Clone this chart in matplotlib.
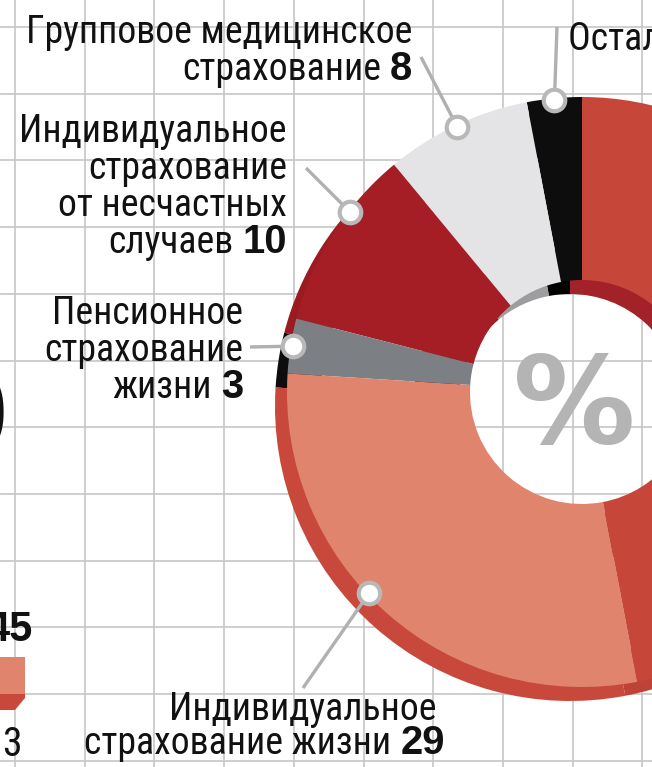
import numpy as np
import matplotlib
matplotlib.use("Agg")
import matplotlib.pyplot as plt
from matplotlib import font_manager
from matplotlib.font_manager import FontProperties
from matplotlib.patches import Rectangle, Polygon

W, H = 652, 767

# slices, counter-clockwise from 12 o'clock
categories = ["Остальные", "Групповое медицинское страхование",
              "Индивидуальное страхование от несчастных случаев",
              "Пенсионное страхование жизни", "Индивидуальное страхование жизни", ""]
shares = [3, 8, 10, 3, 29, 47]
top_colors = ["#0d0d0d", "#e4e4e6", "#a61e25", "#7c8085", "#e0846e", "#c6473a"]
rim_colors = ["#000000", "#9d9d9f", "#9a1b21", "#0d0d0d", "#c8483b", "#bf4236"]
wall_colors = ["#000000", "#9d9d9f", "#861a1e", "#0d0d0d", "#c8483b", "#a3222a"]


# look for a narrow sans face, the original uses a condensed type
def find_narrow():
    best = None
    for f in font_manager.fontManager.ttflist:
        n, p = f.name.lower(), f.fname.lower()
        narrow = ("narrow" in n or "condensed" in n or "narrow" in p or "condensed" in p
                  or f.stretch in ("condensed", "semi-condensed", "extra-condensed", "ultra-condensed"))
        if not narrow or f.style != "normal" or f.weight not in (400, "normal", "regular"):
            continue
        if "mono" in n or "serif" in n:
            continue
        score = 0
        if "liberation" in n:
            score = 3
        elif "roboto" in n:
            score = 2
        elif "dejavu" in n:
            score = 1
        if best is None or score > best[0]:
            best = (score, f.fname)
    return FontProperties(fname=best[1]) if best else FontProperties(family="DejaVu Sans")


names = {f.name for f in font_manager.fontManager.ttflist}
num_family = "Liberation Sans" if "Liberation Sans" in names else "DejaVu Sans"
txt_fp = find_narrow()

fig = plt.figure(figsize=(W / 100, H / 100), dpi=100)
ax = fig.add_axes([0, 0, 1, 1])

cx, cy = 582, H - 392
r_out, r_in = 295, 112
off = (-12, -14)   # fake 3d depth
ring = 45

# sides of the slices: outer rim and inner wall, then the top face
ax.pie(shares, radius=r_out, center=(cx + off[0], cy + off[1]), startangle=90,
       colors=rim_colors, wedgeprops=dict(width=ring, linewidth=0), frame=True)
ax.pie(shares, radius=r_in + ring, center=(cx + off[0], cy + off[1]), startangle=90,
       colors=wall_colors, wedgeprops=dict(width=ring, linewidth=0), frame=True)
ax.pie(shares, radius=r_out, center=(cx, cy), startangle=90,
       colors=top_colors, wedgeprops=dict(width=r_out - r_in, linewidth=0), frame=True)

ax.set_xlim(0, W)
ax.set_ylim(0, H)
ax.set_xticks(15 + 69.7 * np.arange(10))
ax.set_yticks(H - (27 + 66.7 * np.arange(12)))
ax.grid(True, color="#c6c6c6", lw=1.2)
ax.set_axisbelow(True)
ax.tick_params(length=0, labelbottom=False, labelleft=False)
for s in ax.spines.values():
    s.set_visible(False)

# "%" in the hole
ax.text(cx - 8, H - 443, "%", ha="center", va="baseline", fontsize=88,
        fontweight="bold", color="#b4b4b4", family="DejaVu Sans")

# marker dots on the slices
anchor = [0.5, 0.5, 0.35, 0.5, 0.45]
edges = np.cumsum([0] + shares) / sum(shares) * 360
r_dot = 293
dots = []
for i, a in enumerate(anchor):
    ang = np.radians(90 + edges[i] + a * shares[i] / sum(shares) * 360)
    dots.append((cx + r_dot * np.cos(ang), cy + r_dot * np.sin(ang)))

leader_ends = [(557, H - 27), (421, H - 57), (306, H - 168), (250, H - 347), (303, H - 688)]
for (x0, y0), (x1, y1) in zip(dots, leader_ends):
    ax.plot([x0, x1], [y0, y1], color="#b0b0b0", lw=2.4, solid_capstyle="butt", zorder=3)
for x0, y0 in dots:
    ax.plot(x0, y0, "o", ms=15.5, mfc="white", mec="#b8b8b8", mew=3, zorder=4)

fig.canvas.draw()
renderer = fig.canvas.get_renderer()

# fit the label size to the width of the first line in the original (~387 px)
FS = 28
probe = ax.text(0, 0, "Групповое медицинское", fontproperties=txt_fp, fontsize=FS)
FS = min(30, FS * 387 / probe.get_window_extent(renderer).width)
probe.remove()
FS_NUM = FS * 1.06


def label_line(x, y, plain, bold=None):
    y = H - y
    xr = x
    if bold:
        t = ax.text(xr, y, bold, ha="right", va="baseline", fontsize=FS_NUM,
                    fontweight="bold", family=num_family, color="#111111")
        xr -= t.get_window_extent(renderer).width + 9
    ax.text(xr, y, plain, ha="right", va="baseline", fontproperties=txt_fp,
            fontsize=FS, color="#111111")


ax.text(568, H - 50, "Остальные 3", ha="left", va="baseline", fontproperties=txt_fp,
        fontsize=FS, color="#111111")

label_line(412, 43, "Групповое медицинское")
label_line(412, 80, "страхование", "8")

label_line(287, 142, "Индивидуальное")
label_line(287, 179, "страхование")
label_line(287, 216, "от несчастных")
label_line(287, 253, "случаев", "10")

label_line(243, 324, "Пенсионное")
label_line(243, 361, "страхование")
label_line(243, 398, "жизни", "3")

label_line(437, 720, "Индивидуальное")
label_line(445, 754, "страхование жизни", "29")

# pieces of the neighbouring chart on the left
ax.text(8, H - 451, "0", ha="right", va="baseline", fontsize=82, fontweight="bold",
        family=num_family, color="#111111")
ax.text(33, H - 641, "45", ha="right", va="baseline", fontsize=30, fontweight="bold",
        family=num_family, color="#111111")
ax.text(22, H - 756, "3", ha="right", va="baseline", fontproperties=txt_fp, fontsize=FS * 1.05,
        color="#111111")
ax.add_patch(Rectangle((-5, H - 694), 30, 37, color="#e0846e", lw=0, zorder=2))
ax.add_patch(Polygon([(-5, H - 694), (25, H - 694), (25, H - 698), (15, H - 710), (-5, H - 710)],
                     closed=True, color="#c8483b", lw=0, zorder=2))

fig.savefig("out.png", dpi=100)
